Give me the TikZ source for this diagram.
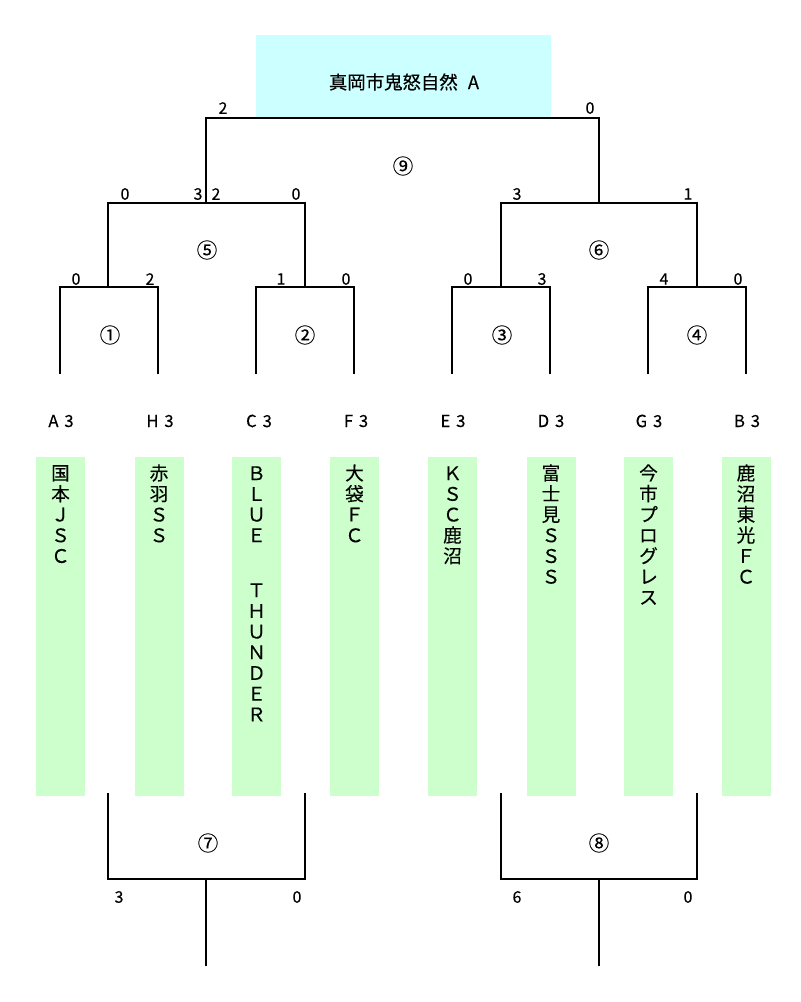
\documentclass[tikz,border=0pt]{standalone}
\usepackage{fontspec}
\setmainfont{Noto Sans CJK JP}[FakeBold=0.25]
\definecolor{champfill}{HTML}{CCFFFF}
\definecolor{teamfill}{HTML}{CCFFCC}
\begin{document}
\begin{tikzpicture}[x=0.75pt,y=-0.75pt,
  bracket/.style={line width=1.3pt, line cap=rect},
  score/.style={inner sep=0pt, font=\fontsize{12}{12}\selectfont},
  matchno/.style={inner sep=0pt, font=\fontsize{15.5}{16}\selectfont},
  seedlab/.style={inner sep=0pt, font=\fontsize{12.5}{13}\selectfont},
  vch/.style={inner sep=0pt, text height=0.88em, text depth=0.12em, font=\fontsize{14}{14}\selectfont},
  teamcol/.style={fill=teamfill, draw=none}]
\useasboundingbox (0,0) rectangle (800,1002);
% champion box
\fill[champfill] (256,35) rectangle (551,117);
\node[inner sep=0pt, font=\fontsize{13.8}{14}\selectfont] (champ) at (404,82) {真岡市鬼怒自然\hskip0.55em A};
% team columns
\foreach \n/\c in {t1/60.5,t2/159,t3/256.5,t4/354.5,t5/452.5,t6/551,t7/648.5,t8/746}{
  \path[teamcol] (\c-24.5,457) rectangle (\c+24.5,796);
}
% brackets
\foreach \n/\l/\r/\t/\b in {m1/60/158/287/373, m2/256/354/287/373, m3/452/550/287/373, m4/648/746/287/373, m5/108/305/203/287, m6/501/697/203/287, m9/206/599/118/203}{
  \coordinate (\n a) at (\l,\b);
  \coordinate (\n b) at (\l,\t);
  \coordinate (\n c) at (\r,\t);
  \coordinate (\n d) at (\r,\b);
  \draw[bracket] (\n a) -- (\n b) -- (\n c) -- (\n d);
}
% lower brackets (7 and 8)
\foreach \n/\l/\r/\m in {m7/108/305/206, m8/501/697/599}{
  \coordinate (\n a) at (\l,794);
  \coordinate (\n b) at (\l,879);
  \coordinate (\n c) at (\r,879);
  \coordinate (\n d) at (\r,794);
  \coordinate (\n s) at (\m,879);
  \coordinate (\n e) at (\m,965);
  \draw[bracket] (\n a) -- (\n b) -- (\n c) -- (\n d);
  \draw[bracket] (\n s) -- (\n e);
}
% match numbers
\node[matchno] (n1) at (110,335) {①};
\node[matchno] (n2) at (305,335) {②};
\node[matchno] (n3) at (502,335) {③};
\node[matchno] (n4) at (697,335) {④};
\node[matchno] (n5) at (207,250) {⑤};
\node[matchno] (n6) at (599,250) {⑥};
\node[matchno] (n7) at (208,843) {⑦};
\node[matchno] (n8) at (599,843) {⑧};
\node[matchno] (n9) at (403,166) {⑨};
% scores
\node[score] (s1a) at (76,279) {0};
\node[score] (s1b) at (150,279) {2};
\node[score] (s2a) at (281,279) {1};
\node[score] (s2b) at (346,279) {0};
\node[score] (s3a) at (468,279) {0};
\node[score] (s3b) at (542,279) {3};
\node[score] (s4a) at (664,279) {4};
\node[score] (s4b) at (738,279) {0};
\node[score] (s5a) at (125,194) {0};
\node[score] (s5b) at (198,194) {3};
\node[score] (s5c) at (216,194) {2};
\node[score] (s5d) at (296,194) {0};
\node[score] (s6a) at (517,194) {3};
\node[score] (s6b) at (688,194) {1};
\node[score] (s9a) at (223,108) {2};
\node[score] (s9b) at (590,108) {0};
\node[score] (s7a) at (119,897) {3};
\node[score] (s7b) at (297,897) {0};
\node[score] (s8a) at (517,897) {6};
\node[score] (s8b) at (688,897) {0};
% seed labels
\node[seedlab] (p1) at (61,421) {A\hskip0.35em 3};
\node[seedlab] (p2) at (160,421) {H\hskip0.35em 3};
\node[seedlab] (p3) at (259,421) {C\hskip0.35em 3};
\node[seedlab] (p4) at (356,421) {F\hskip0.35em 3};
\node[seedlab] (p5) at (453,421) {E\hskip0.35em 3};
\node[seedlab] (p6) at (551,421) {D\hskip0.35em 3};
\node[seedlab] (p7) at (649,421) {G\hskip0.35em 3};
\node[seedlab] (p8) at (747,421) {B\hskip0.35em 3};
% vertical team names
\foreach \ch [count=\i from 0] in {国,本,Ｊ,Ｓ,Ｃ} \node[vch] (a\i) at (60.5,475+\i*20.7) {\ch};
\foreach \ch [count=\i from 0] in {赤,羽,Ｓ,Ｓ} \node[vch] (b\i) at (159,475+\i*20.7) {\ch};
\foreach \ch [count=\i from 0] in {Ｂ,Ｌ,Ｕ,Ｅ} \node[vch] (c\i) at (256.5,475+\i*20.7) {\ch};
\foreach \ch [count=\i from 0] in {Ｔ,Ｈ,Ｕ,Ｎ,Ｄ,Ｅ,Ｒ} \node[vch] (d\i) at (256.5,592+\i*20.7) {\ch};
\foreach \ch [count=\i from 0] in {大,袋,Ｆ,Ｃ} \node[vch] (e\i) at (354.5,475+\i*20.7) {\ch};
\foreach \ch [count=\i from 0] in {Ｋ,Ｓ,Ｃ,鹿,沼} \node[vch] (f\i) at (452.5,475+\i*20.7) {\ch};
\foreach \ch [count=\i from 0] in {富,士,見,Ｓ,Ｓ,Ｓ} \node[vch] (g\i) at (551,475+\i*20.7) {\ch};
\foreach \ch [count=\i from 0] in {今,市,プ,ロ,グ,レ,ス} \node[vch] (h\i) at (648.5,475+\i*20.7) {\ch};
\foreach \ch [count=\i from 0] in {鹿,沼,東,光,Ｆ,Ｃ} \node[vch] (k\i) at (746,475+\i*20.7) {\ch};
\end{tikzpicture}
\end{document}
